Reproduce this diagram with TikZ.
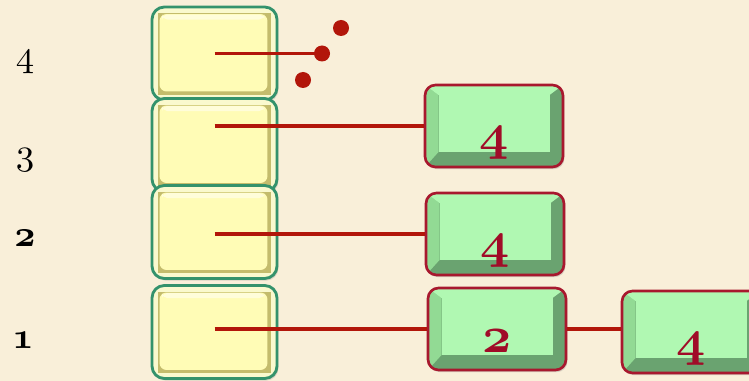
\documentclass[tikz,border=0pt]{standalone}
\usepackage{xcolor}
\usepackage{tikz}
\usetikzlibrary{calc, shadows}
\definecolor{bgcream}{RGB}{249,239,217}
\definecolor{cellgreen}{RGB}{52,146,108}
\definecolor{cellrim}{RGB}{250,249,206}
\definecolor{celldark}{RGB}{196,188,108}
\definecolor{cellface}{RGB}{255,252,182}
\definecolor{gbord}{RGB}{168,24,46}
\definecolor{gface}{RGB}{176,248,178}
\definecolor{gleft}{RGB}{146,218,148}
\definecolor{gdark}{RGB}{106,163,112}
\definecolor{numred}{RGB}{160,12,40}
\definecolor{linkred}{RGB}{178,22,10}
% old-style digits, freely scalable
\DeclareFontFamily{OML}{osd}{}
\DeclareFontShape{OML}{osd}{m}{it}{<->cmmi10}{}
\DeclareFontShape{OML}{osd}{b}{it}{<->cmmib10}{}
\newcommand{\onum}[1]{{\usefont{OML}{osd}{m}{it}#1}}
\newcommand{\bonum}[1]{{\usefont{OML}{osd}{b}{it}#1}}
\tikzset{
  cell/.style={rectangle, draw=cellgreen, fill=cellrim, line width=1.6pt,
    rounded corners=7pt, minimum width=2.5cm, minimum height=1.86cm,
    drop shadow={opacity=0.25, shadow xshift=0.8pt, shadow yshift=-1.2pt},
    path picture={
      \fill[celldark, sharp corners] ($(path picture bounding box.south west)+(0.12cm,0.1cm)$)
        rectangle ($(path picture bounding box.north east)+(-0.12cm,-0.12cm)$);
      \fill[cellface, rounded corners=4pt] ($(path picture bounding box.south west)+(0.15cm,0.17cm)$)
        rectangle ($(path picture bounding box.north east)+(-0.19cm,-0.14cm)$);
      \fill[white, opacity=0.5, rounded corners=3pt] ($(path picture bounding box.north west)+(0.2cm,-0.15cm)$)
        rectangle ($(path picture bounding box.north east)+(-0.25cm,-0.25cm)$);
    }},
  gbox/.style={rectangle, draw=gbord, fill=gdark, line width=1.5pt,
    rounded corners=6pt, minimum width=2.76cm, minimum height=1.64cm,
    text height=0.95cm, text depth=0pt, text=numred,
    font=\fontsize{29}{32}\selectfont,
    drop shadow={opacity=0.3, shadow xshift=0.8pt, shadow yshift=-1.2pt},
    path picture={
      \coordinate (pa) at (path picture bounding box.south west);
      \coordinate (pb) at (path picture bounding box.north east);
      \fill[gleft, sharp corners] (pa) -- ($(pa)+(0.27cm,0.3cm)$) -- ($(pa|-pb)+(0.27cm,-0.2cm)$)
        -- (pa|-pb) -- cycle;
      \fill[gface, sharp corners] (pa|-pb) -- (pb) -- ($(pb)+(-0.27cm,-0.2cm)$)
        -- ($(pa|-pb)+(0.27cm,-0.2cm)$) -- cycle;
      \fill[gface, sharp corners] ($(pa)+(0.27cm,0.3cm)$) rectangle ($(pb)+(-0.27cm,-0.2cm)$);
    }},
  dot/.style={circle, fill=linkred, inner sep=0pt, minimum size=0.32cm},
  link/.style={draw=linkred, line width=2.2pt},
  lvl/.style={anchor=base, font=\fontsize{21}{24}\selectfont}
}
\begin{document}
\begin{tikzpicture}[x=0.02cm, y=-0.02cm]
  % Background
  \useasboundingbox (0,0) rectangle (749,381);
  \clip (0,0) rectangle (749,381);
  \fill[bgcream] (0,0) rectangle (749,381);

  % Row numbers
  \node[lvl] (n4) at (25,67) {\onum{4}};
  \node[lvl] (n3) at (25,165) {\onum{3}};
  \node[lvl] (n2) at (25,246) {\bonum{2}};
  \node[lvl] (n1) at (23,348) {\bonum{1}};

  % Column of cells
  \node[cell] (c4) at (214.5,53.5) {};
  \node[cell] (c3) at (214.5,145) {};
  \node[cell] (c2) at (214.5,232) {};
  \node[cell] (c1) at (214.5,332) {};

  % Green boxes
  \node[gbox] (g3) at (494,126) {\bonum{4}};
  \node[gbox] (g2) at (495,234) {\bonum{4}};
  \node[gbox] (g1) at (497,329) {\bonum{2}};
  \node[gbox] (g1b) at (691,332) {\bonum{4}};

  % Links
  \draw[link] (c4.center) -- (322,53.5) coordinate (e4);
  \draw[link] (c3.center |- g3.west) -- (g3.west);
  \draw[link] (c2.center |- g2.west) -- (g2.west);
  \draw[link] (c1.center |- g1.west) -- (g1.west);
  \draw[link] (g1.east) -- (g1.east -| g1b.west);

  % Dots
  \node[dot] (d1) at (341,28) {};
  \node[dot] (d2) at (e4) {};
  \node[dot] (d3) at (303,80) {};
\end{tikzpicture}
\end{document}
